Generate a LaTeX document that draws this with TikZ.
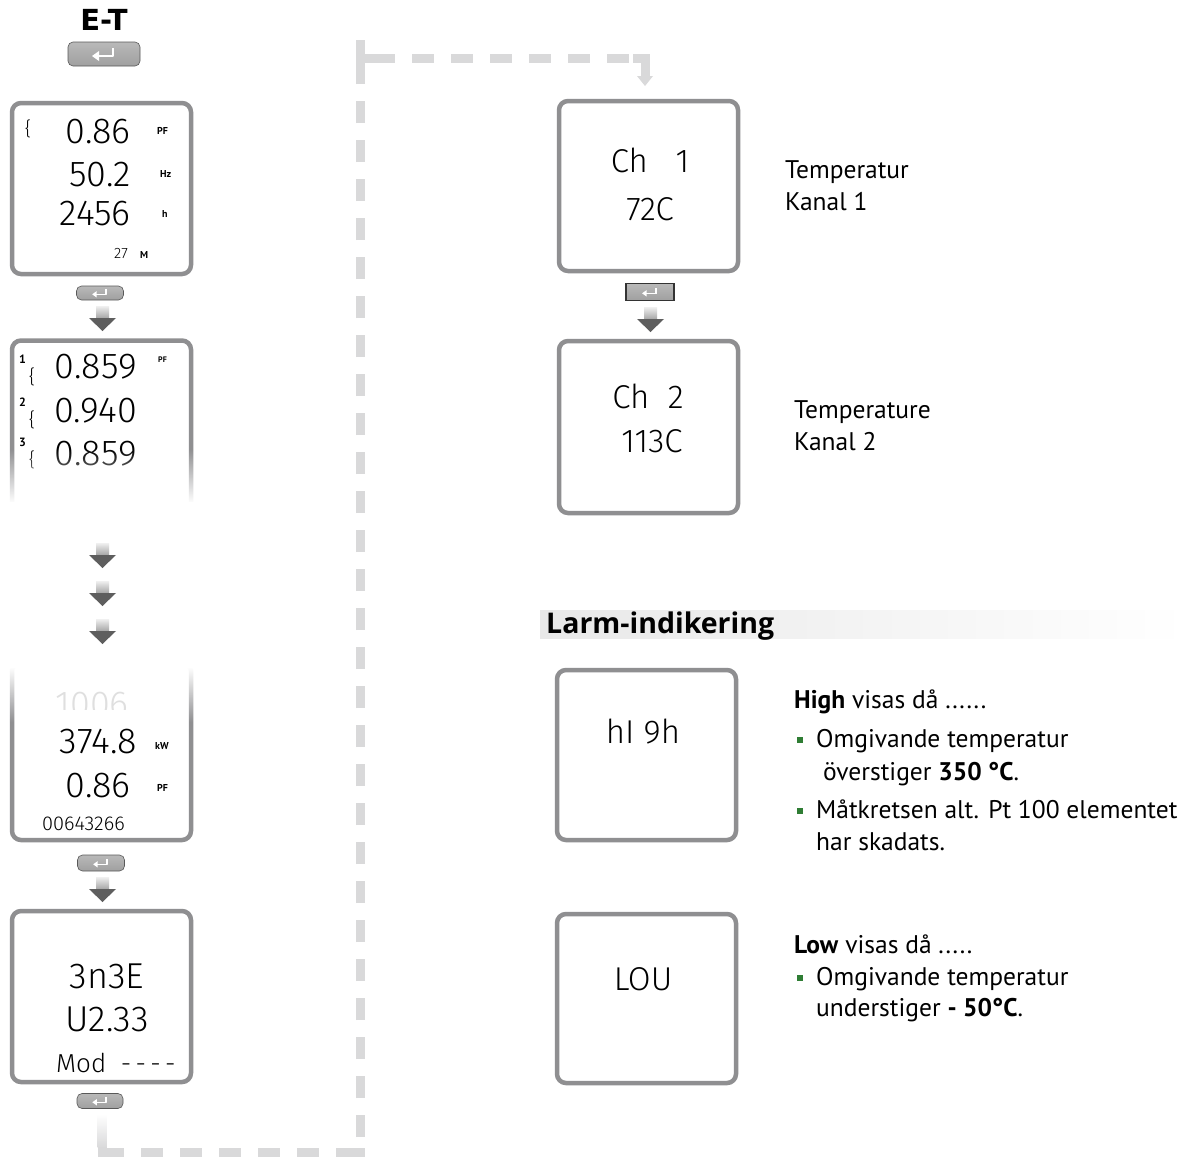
\documentclass[tikz,border=0pt]{standalone}
\usepackage{fontspec}
\setmainfont{PT Sans}
\IfFontExistsTF{Fira Sans Light}{\newfontfamily\lcdfont{Fira Sans Light}}{\newfontfamily\lcdfont{Fira Sans}}
\newfontfamily\headfont{DejaVu Sans}
\newfontfamily\headingfont{Open Sans}
\usetikzlibrary{fadings,arrows.meta}
\definecolor{boxgray}{HTML}{8F8F91}
\definecolor{dashgray}{HTML}{D9D9DA}
\definecolor{arrgray}{HTML}{5E5E5E}
\definecolor{bulletgreen}{HTML}{2F7D34}
\tikzfading[name=fadedown, top color=transparent!100, bottom color=transparent!0]
\tikzfading[name=fadeup, top color=transparent!0, bottom color=transparent!100]
\tikzset{
  lcdbox/.style={draw=boxgray, line width=4.5pt, rounded corners=9pt, fill=white, inner sep=0pt},
  lcd/.style={font=\lcdfont\fontsize{36}{36}\selectfont, inner sep=0pt},
  lcdm/.style={font=\lcdfont\fontsize{33}{33}\selectfont, inner sep=0pt},
  lcds/.style={font=\lcdfont\fontsize{15}{15}\selectfont, inner sep=0pt},
  wave/.style={font=\lcdfont\fontsize{19}{19}\selectfont, inner sep=0pt, anchor=base},
  unitlbl/.style={font=\bfseries\fontsize{10}{10}\selectfont, inner sep=0pt, anchor=base west},
  phlbl/.style={font=\bfseries\fontsize{12}{12}\selectfont, inner sep=0pt, anchor=base west},
  btn/.style={draw=gray!70!black, line width=0.6pt, rounded corners=5pt, shading=axis,
    top color=gray!55, middle color=gray!25, bottom color=gray!75, inner sep=0pt},
  body/.style={font=\fontsize{25.5}{30}\selectfont, inner sep=0pt, anchor=base west},
  dashline/.style={draw=dashgray, line width=9pt, dash pattern=on 22pt off 17pt},
  corner/.style={draw=dashgray, line width=9pt},
}
\newcommand\retbtn[5]{%
  \node[btn, minimum width=#4, minimum height=#5] (#1) at (#2,#3) {};
  \begin{scope}[shift={(#1.center)}, scale=#4/72]
    \draw[white, line width={2.4pt*#4/72}, line join=round] (9,-6) -- (9,2) -- (-6,2);
    \fill[white] (-5,-3) -- (-12,2) -- (-5,7) -- cycle;
  \end{scope}}
\newcommand\dnarrow[2]{%
  \shade[top color=gray!12, bottom color=gray!72] (#1-6.5,#2) rectangle (#1+6.5,#2+12.5);
  \fill[arrgray] (#1-13.5,#2+12) -- (#1+13.5,#2+12) -- (#1,#2+25) -- cycle;}
\newcommand\bul[2]{\fill[bulletgreen] (#1,#2) rectangle ++(6,-6);}
\begin{document}
\begin{tikzpicture}[x=1pt,y=-1pt]
\useasboundingbox (0,0) rectangle (1187,1157);
\fill[white] (0,0) rectangle (1187,1157);

% ---------- dashed loop ----------
\coordinate (c1) at (102,1152);
\coordinate (c2) at (360,1152);
\coordinate (c3) at (360,58);
\coordinate (c4) at (645,58);
\coordinate (c5) at (645,76);
\draw[dashline] (c1) -- (c2) -- (c3) -- (c4) -- (c5);
\draw[corner] ([xshift=-16pt]c2) -- (c2) -- ([yshift=-18pt]c2);
\draw[corner] ([yshift=18pt]c3) -- (c3) -- ([xshift=18pt]c3);
\draw[corner] ([xshift=-12pt]c4) -- (c4) -- (c5);
\fill[dashgray] ([xshift=-8pt]c5) -- ([xshift=8pt]c5) -- ([yshift=-10pt]c5) -- cycle;
\shade[top color=white, bottom color=dashgray] (97.5,1114) rectangle (106.5,1147.5);
\draw[corner] (102,1147) -- (c1) -- (118,1152);

% ---------- header ----------
\node[font=\headfont\bfseries\fontsize{29}{29}\selectfont, inner sep=0pt] (et) at (104,20) {E-T};
\retbtn{b0}{104}{54}{72}{24}

% ---------- display 1 ----------
\node[lcdbox, minimum width=179, minimum height=171] (d1) at (101.5,188.5) {};
\node[wave] (d1w) at (28,135) {\{};
\node[lcd, anchor=base east] (d1a) at (131,143) {0.86};
\node[lcd, anchor=base east] (d1b) at (131,186) {50.2};
\node[lcd, anchor=base east] (d1c) at (131,225) {2456};
\node[lcds, anchor=base east] (d1d) at (128,258) {27};
\node[unitlbl] (u1a) at (157,134) {PF};
\node[unitlbl] (u1b) at (160,177) {Hz};
\node[unitlbl] (u1c) at (162,217) {h};
\node[unitlbl] (u1d) at (140,258) {M};

\retbtn{b1}{100}{293}{47}{14}
\dnarrow{102.5}{306}

% ---------- display 2 (fading out) ----------
\node[lcdbox, minimum width=179, minimum height=171] (d2) at (101.5,426) {};
\node[phlbl] (p1) at (19,363) {1};
\node[phlbl] (p2) at (19,406) {2};
\node[phlbl] (p3) at (19,446) {3};
\node[wave] (w1) at (32,383) {\{};
\node[wave] (w2) at (32,426) {\{};
\node[wave] (w3) at (32,466) {\{};
\node[lcd, anchor=base east] (d2a) at (137,378) {0.859};
\node[lcd, anchor=base east] (d2b) at (137,422) {0.940};
\node[lcd, anchor=base east] (d2c) at (137,465) {0.859};
\node[unitlbl, font=\bfseries\fontsize{8}{8}\selectfont] (u2a) at (158,362) {PF};
\fill[white, path fading=fadedown] (3,449) rectangle (200,503);
\fill[white] (3,502) rectangle (200,520);

\dnarrow{102.5}{543}
\dnarrow{102.5}{581}
\dnarrow{102.5}{619}

% ---------- display 4 (fading in) ----------
\node[lcdbox, minimum width=179, minimum height=178] (d4) at (101.5,751) {};
\fill[white] (3,655) rectangle (200,668);
\fill[white, path fading=fadeup] (3,667) rectangle (200,722);
\begin{scope}
  \clip (15,690) rectangle (185,709);
  \node[lcd, anchor=base east, text=gray!25] (d4z) at (129,716) {1006};
\end{scope}
\node[lcd, anchor=base east] (d4a) at (137,753) {374.8};
\node[lcd, anchor=base east] (d4b) at (131,797) {0.86};
\node[unitlbl] (u4a) at (155,749) {kW};
\node[unitlbl] (u4b) at (157,791) {PF};
\node[lcd, anchor=base west, font=\lcdfont\fontsize{20}{20}\selectfont] (d4c) at (42,830) {00643266};

\retbtn{b4}{101}{863}{47}{16}
\dnarrow{102.5}{877}

% ---------- display 5 ----------
\node[lcdbox, minimum width=179, minimum height=171] (d5) at (101.5,996.5) {};
\node[lcd, anchor=base] (d5a) at (107,988) {3n3E};
\node[lcd, anchor=base] (d5b) at (107,1031) {U2.33};
\node[lcd, anchor=base west, font=\lcdfont\fontsize{26}{26}\selectfont] (d5c) at (56,1072) {Mod\ \ -\,-\,-\,-};
\retbtn{b5}{100}{1101}{46}{15}

% ---------- right column: channels ----------
\node[lcdbox, minimum width=179, minimum height=170] (r1) at (648.5,186) {};
\node[lcdm, anchor=base] (r1a) at (650,172) {Ch\ \ \ 1};
\node[lcdm, anchor=base] (r1b) at (650,220) {72C};
\node[btn, rounded corners=0pt, draw=gray!40!black, line width=1.5pt, minimum width=48, minimum height=17] (bR) at (650,292) {};
\begin{scope}[shift={(bR.center)}, scale=0.66]
  \draw[white, line width=1.6pt] (9,-6) -- (9,2) -- (-6,2);
  \fill[white] (-5,-3) -- (-12,2) -- (-5,7) -- cycle;
\end{scope}
\dnarrow{650.5}{307}
\node[lcdbox, minimum width=179, minimum height=172] (r2) at (648.5,427) {};
\node[lcdm, anchor=base] (r2a) at (648,408) {Ch\ \ 2};
\node[lcdm, anchor=base] (r2b) at (652,452) {113C};

\node[body] (t1a) at (785,178) {Temperatur};
\node[body] (t1b) at (785,210) {Kanal 1};
\node[body] (t2a) at (794,418) {Temperature};
\node[body] (t2b) at (794,450) {Kanal 2};

% ---------- alarm section ----------
\shade[left color=black!9, right color=white] (540,610) rectangle (1187,638);
\node[body, font=\headingfont\bfseries\fontsize{28.5}{30}\selectfont] (lh) at (546,633) {Larm-indikering};

\node[lcdbox, minimum width=179, minimum height=170] (r3) at (646.5,755) {};
\node[lcdm, anchor=base] (r3a) at (643,743) {hI 9h};
\node[body] (h0) at (794,708) {\textbf{High} visas då ......};
\bul{797}{743}
\node[body] (h1) at (816,747) {Omgivande temperatur};
\node[body] (h2) at (816,780) {\ överstiger \textbf{350 °C}.};
\bul{797}{814}
\node[body] (h3) at (816,818) {Måtkretsen alt. Pt 100 elementet};
\node[body] (h4) at (816,850) {har skadats.};

\node[lcdbox, minimum width=179, minimum height=169] (r4) at (646.5,998.5) {};
\node[lcdm, anchor=base] (r4a) at (643,990) {LOU};
\node[body] (l0) at (794,953) {\textbf{Low} visas då .....};
\bul{797}{981}
\node[body] (l1) at (816,985) {Omgivande temperatur};
\node[body] (l2) at (816,1016) {understiger \textbf{- 50°C}.};
\end{tikzpicture}
\end{document}
